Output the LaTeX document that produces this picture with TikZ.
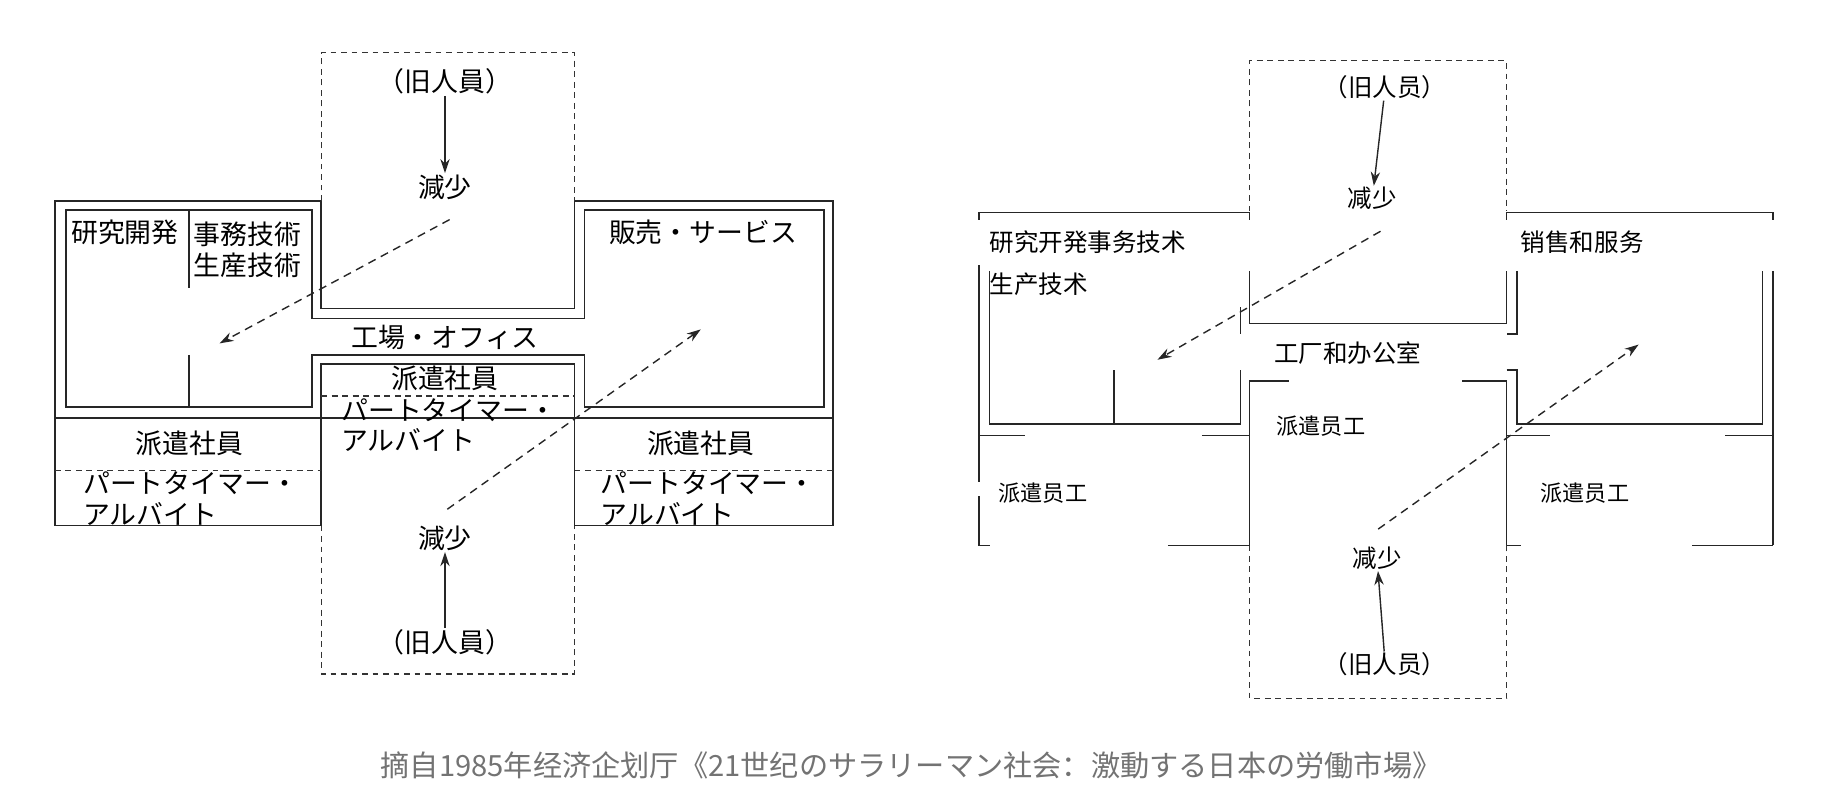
\documentclass[tikz,border=0pt]{standalone}
\usepackage{fontspec}
\newfontfamily\jpfont{Noto Sans CJK JP}
\newfontfamily\scfont{Noto Sans CJK SC}
\usetikzlibrary{arrows.meta}
\tikzset{
	wall/.style={line width=1.3pt, black!85},
	hole/.style={line width=1.1pt, dashed, dash pattern=on 5pt off 4pt, black!80},
	flow/.style={-{Stealth[length=12pt,width=8pt]}, line width=1.2pt, black!85},
	dflow/.style={flow, dashed, dash pattern=on 7pt off 5pt},
	jlab/.style={font=\jpfont\fontsize{23}{26}\selectfont, inner sep=1pt},
	clab/.style={font=\scfont\fontsize{21}{24}\selectfont, inner sep=1pt},
}
\begin{document}
\begin{tikzpicture}[x=1pt,y=-1pt]
	\useasboundingbox (0,0) rectangle (1560,680);
	% left picture
	\draw[wall] (47,172) -- (275,172) -- (275,264) -- (492,264) -- (492,172) -- (713,172) -- (713,450) -- (492,450) -- (492,311.5) -- (275,311.5) -- (275,450) -- (47,450) -- cycle;
	\draw[wall] (56.6,179.7) -- (267,179.7) -- (267,272.8) -- (500.3,272.8) -- (500.3,179.7) -- (705.5,179.7) -- (705.5,348.4) -- (500.3,348.4) -- (500.3,303.8) -- (267,303.8) -- (267,348.4) -- (56.6,348.4) -- cycle;
	\draw[wall] (47,358) -- (713,358);
	\draw[wall] (162,179.7) -- (162,246.5) (162,303.8) -- (162,348.4);
	\draw[hole] (275,172) -- (275,45) -- (492,45) -- (492,172);
	\draw[hole] (275,450) -- (275,577) -- (492,577) -- (492,450);
	\draw[hole] (275,339) -- (492,339);
	\draw[hole] (47,403) -- (275,403) (492,403) -- (713,403);

	\node[jlab] (oldA) at (381,70) {（旧人員）};
	\node[jlab] (decA) at (381,160) {減少};
	\node[jlab] (oldB) at (381,550) {（旧人員）};
	\node[jlab] (decB) at (381,461) {減少};
	\node[jlab] (rnd) at (107,199) {研究開発};
	\node[jlab, align=left] (tech) at (212,214) {事務技術\\生産技術};
	\node[jlab] (sales) at (602,199) {販売・サービス};
	\node[jlab] (office) at (381,289) {工場・オフィス};
	\node[jlab] (dispC) at (381,324) {派遣社員};
	\node[jlab, anchor=west, align=left] (partC) at (291,364) {パートタイマー・\\アルバイト};
	\node[jlab] (dispL) at (162,380) {派遣社員};
	\node[jlab, anchor=west, align=left] (partL) at (70,427) {パートタイマー・\\アルバイト};
	\node[jlab] (dispR) at (600,380) {派遣社員};
	\node[jlab, anchor=west, align=left] (partR) at (513,427) {パートタイマー・\\アルバイト};
	\coordinate (tgtL) at (188,294);
	\coordinate (tgtR) at (600,282);
	\coordinate (srcL) at (385,188);
	\coordinate (srcR) at (383,436);

	\draw[flow] (oldA) -- (decA);
	\draw[flow] (oldB) -- (decB);
	\draw[dflow] (srcL) -- (tgtL);
	\draw[dflow] (srcR) -- (tgtR);

	% right picture
	\draw[hole] (1070,181) -- (1070,52) -- (1290,52) -- (1290,181);
	\draw[hole] (1070,467) -- (1070,598) -- (1290,598) -- (1290,467);
	\draw[wall] (838,188) -- (838,182) -- (1070,182) -- (1070,188);
	\draw[wall] (1290,188) -- (1290,182) -- (1518,182) -- (1518,188);
	\draw[wall] (838,227) -- (838,373);
	\draw[wall] (847,232) -- (847,363) -- (1062,363) -- (1062,317);
	\draw[wall] (954,317) -- (954,363);
	\draw[wall] (1070,232) -- (1070,277) -- (1290,277) -- (1290,232);
	\draw[wall] (1062,263) -- (1062,286);
	\draw[wall] (1299,232) -- (1299,286) -- (1290,286);
	\draw[wall] (1070,331) -- (1070,326) -- (1104,326) (1252,326) -- (1290,326) -- (1290,467);
	\draw[wall] (1290,317) -- (1299,317) -- (1299,363) -- (1509,363) -- (1509,232);
	\draw[wall] (1518,232) -- (1518,467);
	\draw[wall] (1070,331) -- (1070,467);
	\draw[wall] (838,373) -- (878,373) (1029,373) -- (1070,373);
	\draw[wall] (1290,373) -- (1327,373) (1477,373) -- (1518,373);
	\draw[wall] (838,373) -- (838,413) (838,425) -- (838,467) -- (848,467) (1000,467) -- (1070,467);
	\draw[wall] (1290,467) -- (1302,467) (1449,467) -- (1518,467);

	\node[clab] (oldC) at (1186,75) {（旧人员）};
	\node[clab] (decC) at (1175,170) {减少};
	\node[clab] (oldD) at (1186,569) {（旧人员）};
	\node[clab] (decD) at (1179,478) {减少};
	\node[clab, anchor=west] (rndC) at (846,207) {研究开発事务技术};
	\node[clab, anchor=west] (techC) at (846,243) {生产技术};
	\node[clab, anchor=west] (salesC) at (1301,207) {销售和服务};
	\node[clab] (officeC) at (1154,302) {工厂和办公室};
	\node[clab, font=\scfont\fontsize{19}{22}\selectfont] (dispCC) at (1131,365) {派遣员工};
	\node[clab, font=\scfont\fontsize{19}{22}\selectfont] (dispLC) at (893,422) {派遣员工};
	\node[clab, font=\scfont\fontsize{19}{22}\selectfont] (dispRC) at (1357,422) {派遣员工};
	\coordinate (tgtLC) at (991,308);
	\coordinate (tgtRC) at (1403,295);
	\coordinate (srcLC) at (1182,198);
	\coordinate (srcRC) at (1180,453);

	\draw[flow] (oldC) -- (decC);
	\draw[flow] (oldD) -- (decD);
	\draw[dflow] (srcLC) -- (tgtLC);
	\draw[dflow] (srcRC) -- (tgtRC);

	\node[font=\scfont\fontsize{25}{28}\selectfont, text=black!55] (cap) at (780,655) {摘自1985年经济企划厅《21世纪のサラリーマン社会：激動する日本の労働市場》};
\end{tikzpicture}
\end{document}
